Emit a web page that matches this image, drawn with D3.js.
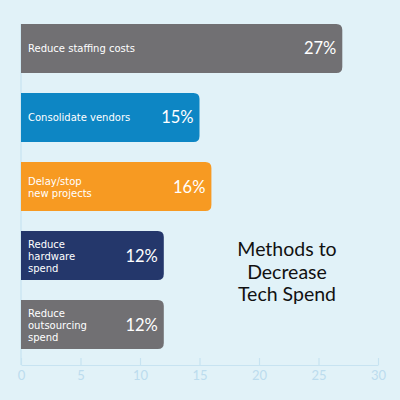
<!DOCTYPE html>
<html>
<head>
<meta charset="utf-8">
<script src="https://cdn.jsdelivr.net/npm/d3@7"></script>
<style>
  body { margin: 0; background: #e1f2f8; }
  svg { display: block; }
</style>
</head>
<body>
<script>
const categories = [
  ["Reduce staffing costs"],
  ["Consolidate vendors"],
  ["Delay/stop", "new projects"],
  ["Reduce", "hardware", "spend"],
  ["Reduce", "outsourcing", "spend"]
];
const values = [27, 15, 16, 12, 12];
const colors = ["#717073", "#0d86c4", "#f79a22", "#24376b", "#717073"];
const xTicks = [0, 5, 10, 15, 20, 25, 30];
const titleLines = ["Methods to", "Decrease", "Tech Spend"];

const w = 400, h = 400;
const axisY = 365;

const svg = d3.select("body").append("svg")
  .attr("width", w)
  .attr("height", h);

svg.append("rect").attr("width", w).attr("height", h).attr("fill", "#e1f2f8");

const x = d3.scaleLinear().domain([0, 30]).range([21, 378]);
const y = d3.scaleBand()
  .domain(d3.range(categories.length))
  .range([24, 349])
  .paddingInner(0.29)
  .paddingOuter(0);

// axis lines
svg.append("line")
  .attr("x1", x(0)).attr("x2", x(0))
  .attr("y1", y(0)).attr("y2", axisY)
  .attr("stroke", "#c7e3f1").attr("stroke-width", 1.2);

const xAxis = d3.axisBottom(x).tickValues(xTicks).tickSize(0).tickPadding(10);
const gx = svg.append("g")
  .attr("transform", "translate(0," + axisY + ")")
  .call(xAxis);
gx.select(".domain").attr("stroke", "#c7e3f1").attr("stroke-width", 1.2);
gx.selectAll(".tick line")
  .attr("y2", -7)
  .attr("stroke", "#c7e3f1").attr("stroke-width", 1.2);
gx.selectAll(".tick text")
  .attr("fill", "#bcdcee")
  .attr("font-family", "Lato, 'Open Sans', sans-serif")
  .attr("font-size", 13)
  .attr("dy", "0.4em");

// bars with rounded right corners
const r = 6;
function barPath(d, i) {
  const x0 = x(0), x1 = x(d), y0 = y(i), y1 = y(i) + y.bandwidth();
  return "M" + x0 + "," + y0 +
    "H" + (x1 - r) +
    "Q" + x1 + "," + y0 + " " + x1 + "," + (y0 + r) +
    "V" + (y1 - r) +
    "Q" + x1 + "," + y1 + " " + (x1 - r) + "," + y1 +
    "H" + x0 + "Z";
}

svg.selectAll("path.bar")
  .data(values)
  .enter()
  .append("path")
  .attr("class", "bar")
  .attr("d", barPath)
  .attr("fill", (d, i) => colors[i]);

// category labels inside bars
const lineH = 12;
svg.selectAll("text.cat")
  .data(categories)
  .enter()
  .append("text")
  .attr("class", "cat")
  .attr("x", x(0) + 7)
  .attr("y", (d, i) => y(i) + y.bandwidth() / 2 - (d.length - 1) * lineH / 2)
  .attr("fill", "#fff")
  .attr("font-family", "'DejaVu Sans', sans-serif")
  .attr("font-size", 10)
  .attr("dominant-baseline", "central")
  .each(function(d) {
    const t = d3.select(this);
    const x0 = t.attr("x");
    d.forEach((line, k) => {
      t.append("tspan").attr("x", x0).attr("dy", k === 0 ? 0 : lineH).text(line);
    });
  });

// value labels
svg.selectAll("text.val")
  .data(values)
  .enter()
  .append("text")
  .attr("class", "val")
  .attr("x", (d) => x(d) - 6)
  .attr("y", (d, i) => y(i) + y.bandwidth() / 2)
  .attr("text-anchor", "end")
  .attr("dominant-baseline", "central")
  .attr("fill", "#fff")
  .attr("font-family", "Lato, 'Open Sans', sans-serif")
  .attr("font-size", 16.5)
  .text((d) => d + "%");

// title
svg.append("text")
  .attr("x", 287)
  .attr("y", 248)
  .attr("text-anchor", "middle")
  .attr("dominant-baseline", "central")
  .attr("fill", "#111")
  .attr("font-family", "Lato, 'Open Sans', sans-serif")
  .attr("font-size", 19.5)
  .selectAll("tspan")
  .data(titleLines)
  .enter()
  .append("tspan")
  .attr("x", 287)
  .attr("dy", (d, i) => i === 0 ? 0 : 22.5)
  .text((d) => d);
</script>
</body>
</html>
